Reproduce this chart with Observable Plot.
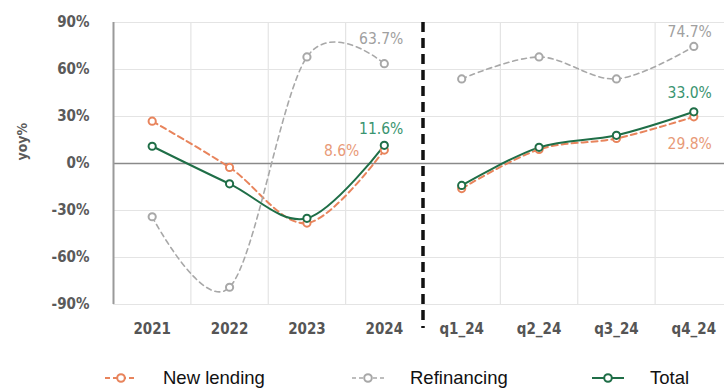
<!DOCTYPE html>
<html>
<head>
<meta charset="utf-8">
<script src="https://cdn.jsdelivr.net/npm/d3@7"></script>
<script src="https://cdn.jsdelivr.net/npm/@observablehq/plot@0.6"></script>
<style>
  html, body { margin: 0; padding: 0; background: #fff; }
  #wrap { width: 724px; height: 392px; position: relative; overflow: hidden; }
  #legend { position: absolute; left: 0; top: 352px; width: 724px; height: 40px; font-family: "Liberation Sans", Arial, sans-serif; font-size: 18.5px; color: #111; }
  .item { position: absolute; top: 15px; display: flex; align-items: center; height: 22px; }
  .item svg { margin-right: 26px; }
</style>
</head>
<body>
<div id="wrap">
  <div id="chart"></div>
  <div id="legend"></div>
</div>
<script>
// ---- data ----
const categories = ["2021", "2022", "2023", "2024", "q1_24", "q2_24", "q3_24", "q4_24"];
const periodGroup = ["annual", "annual", "annual", "annual", "quarterly", "quarterly", "quarterly", "quarterly"];
const seriesNames = ["New lending", "Refinancing", "Total"];
const newLending = [27, -2.5, -38, 8.6, -16, 9, 16, 29.8];
const refinancing = [-34, -79, 68, 63.7, 54, 68, 54, 74.7];
const total = [11, -13, -35, 11.6, -14, 10.3, 18, 33.0];
const yTicks = [-90, -60, -30, 0, 30, 60, 90];

// ---- styles ----
const colors = {"New lending": "#E8845C", "Refinancing": "#A8A8A8", "Total": "#1F6E47"};
const labelColors = {"New lending": "#E89A78", "Refinancing": "#A0A0A0", "Total": "#3A9470"};
const dashes = {"New lending": "6,4", "Refinancing": "5,4", "Total": null};
const widths = {"New lending": 2, "Refinancing": 1.6, "Total": 2};
const axisFont = "'DejaVu Sans Condensed', 'Liberation Sans Narrow', 'Roboto Condensed', 'DejaVu Sans', sans-serif";

const valuesBySeries = {"New lending": newLending, "Refinancing": refinancing, "Total": total};
const rows = seriesNames.flatMap(s => valuesBySeries[s].map((v, i) => ({
  series: s, i, cat: categories[i], group: periodGroup[i], value: v
})));

const splitIndex = periodGroup.indexOf("quarterly") - 0.5;
const boundaries = d3.range(categories.length + 1).map(i => i - 0.5);
const innerGrid = boundaries.filter(b => b !== -0.5 && b !== splitIndex && b < categories.length - 0.5);

const pick = (s, cat) => rows.filter(d => d.series === s && d.cat === cat);
const fmt = d => d.value.toFixed(1) + "%";
const lastAnnual = categories[periodGroup.lastIndexOf("annual")];
const lastQuarter = categories[categories.length - 1];

function label(s, cat, opts) {
  return Plot.text(pick(s, cat), {
    x: "i", y: "value", text: fmt, fill: labelColors[s],
    fontSize: 15.5, fontFamily: axisFont, textAnchor: "end", ...opts
  });
}

const lineMarks = seriesNames.map(s => Plot.line(rows.filter(d => d.series === s), {
  x: "i", y: "value", z: "group", stroke: colors[s], strokeWidth: widths[s],
  strokeDasharray: dashes[s], curve: "cardinal"
}));
const dotMarks = seriesNames.map(s => Plot.dot(rows.filter(d => d.series === s), {
  x: "i", y: "value", r: 3.6, fill: "white", stroke: colors[s], strokeWidth: 2
}));

const chart = Plot.plot({
  width: 724,
  height: 352,
  marginLeft: 113,
  marginRight: 0,
  marginTop: 22,
  marginBottom: 48,
  style: {fontFamily: axisFont, background: "white"},
  x: {type: "linear", domain: [-0.5, categories.length - 0.5], range: [113, 732]},
  y: {domain: [-90, 90]},
  marks: [
    Plot.ruleY(yTicks.filter(t => t !== 0), {stroke: "#E4E4E4", strokeWidth: 1.2}),
    Plot.ruleX(innerGrid, {stroke: "#E4E4E4", strokeWidth: 1.2}),
    Plot.ruleY([0], {stroke: "#8A8A8A", strokeWidth: 1.4}),
    Plot.ruleX([-0.5], {stroke: "#9A9A9A", strokeWidth: 2}),
    Plot.axisY({ticks: yTicks, tickSize: 0, tickPadding: 24, tickFormat: d => d + "%",
      fontSize: 15, fontWeight: "bold", fill: "#5A5A5A", label: null}),
    Plot.axisX({ticks: d3.range(categories.length), tickSize: 0, tickPadding: 19,
      tickFormat: i => categories[i], fontSize: 15, fontWeight: "bold", fill: "#555", label: null}),
    Plot.text(["yoy%"], {frameAnchor: "left", dx: -91, dy: -3, rotate: -90, text: d => d,
      fontSize: 14, fontWeight: "bold", fill: "#5A5A5A"}),
    ...lineMarks,
    ...dotMarks,
    Plot.ruleX([splitIndex], {stroke: "#111", strokeWidth: 3.5, strokeDasharray: "10,6", insetBottom: -24}),
    label("Refinancing", lastAnnual, {dx: 19, dy: -25}),
    label("Total", lastAnnual, {dx: 19, dy: -16}),
    label("New lending", lastAnnual, {dx: -25, dy: 1}),
    label("Refinancing", lastQuarter, {dx: 18, dy: -14}),
    label("Total", lastQuarter, {dx: 18, dy: -19}),
    label("New lending", lastQuarter, {dx: 18, dy: 27})
  ]
});
document.getElementById("chart").appendChild(chart);

// ---- legend ----
const legendLeft = {"New lending": 105, "Refinancing": 352, "Total": 592};
const legend = document.getElementById("legend");
for (const s of seriesNames) {
  const item = document.createElement("div");
  item.className = "item";
  item.style.left = legendLeft[s] + "px";
  const dash = dashes[s] ? `stroke-dasharray="${dashes[s] === "6,4" ? "5,3" : "4,3"}"` : "";
  item.innerHTML = `<svg width="32" height="16"><line x1="0" y1="8" x2="32" y2="8" stroke="${colors[s]}" stroke-width="${widths[s]}" ${dash}/><circle cx="16" cy="8" r="3.8" fill="white" stroke="${colors[s]}" stroke-width="2"/></svg><span>${s}</span>`;
  legend.appendChild(item);
}
</script>
</body>
</html>
